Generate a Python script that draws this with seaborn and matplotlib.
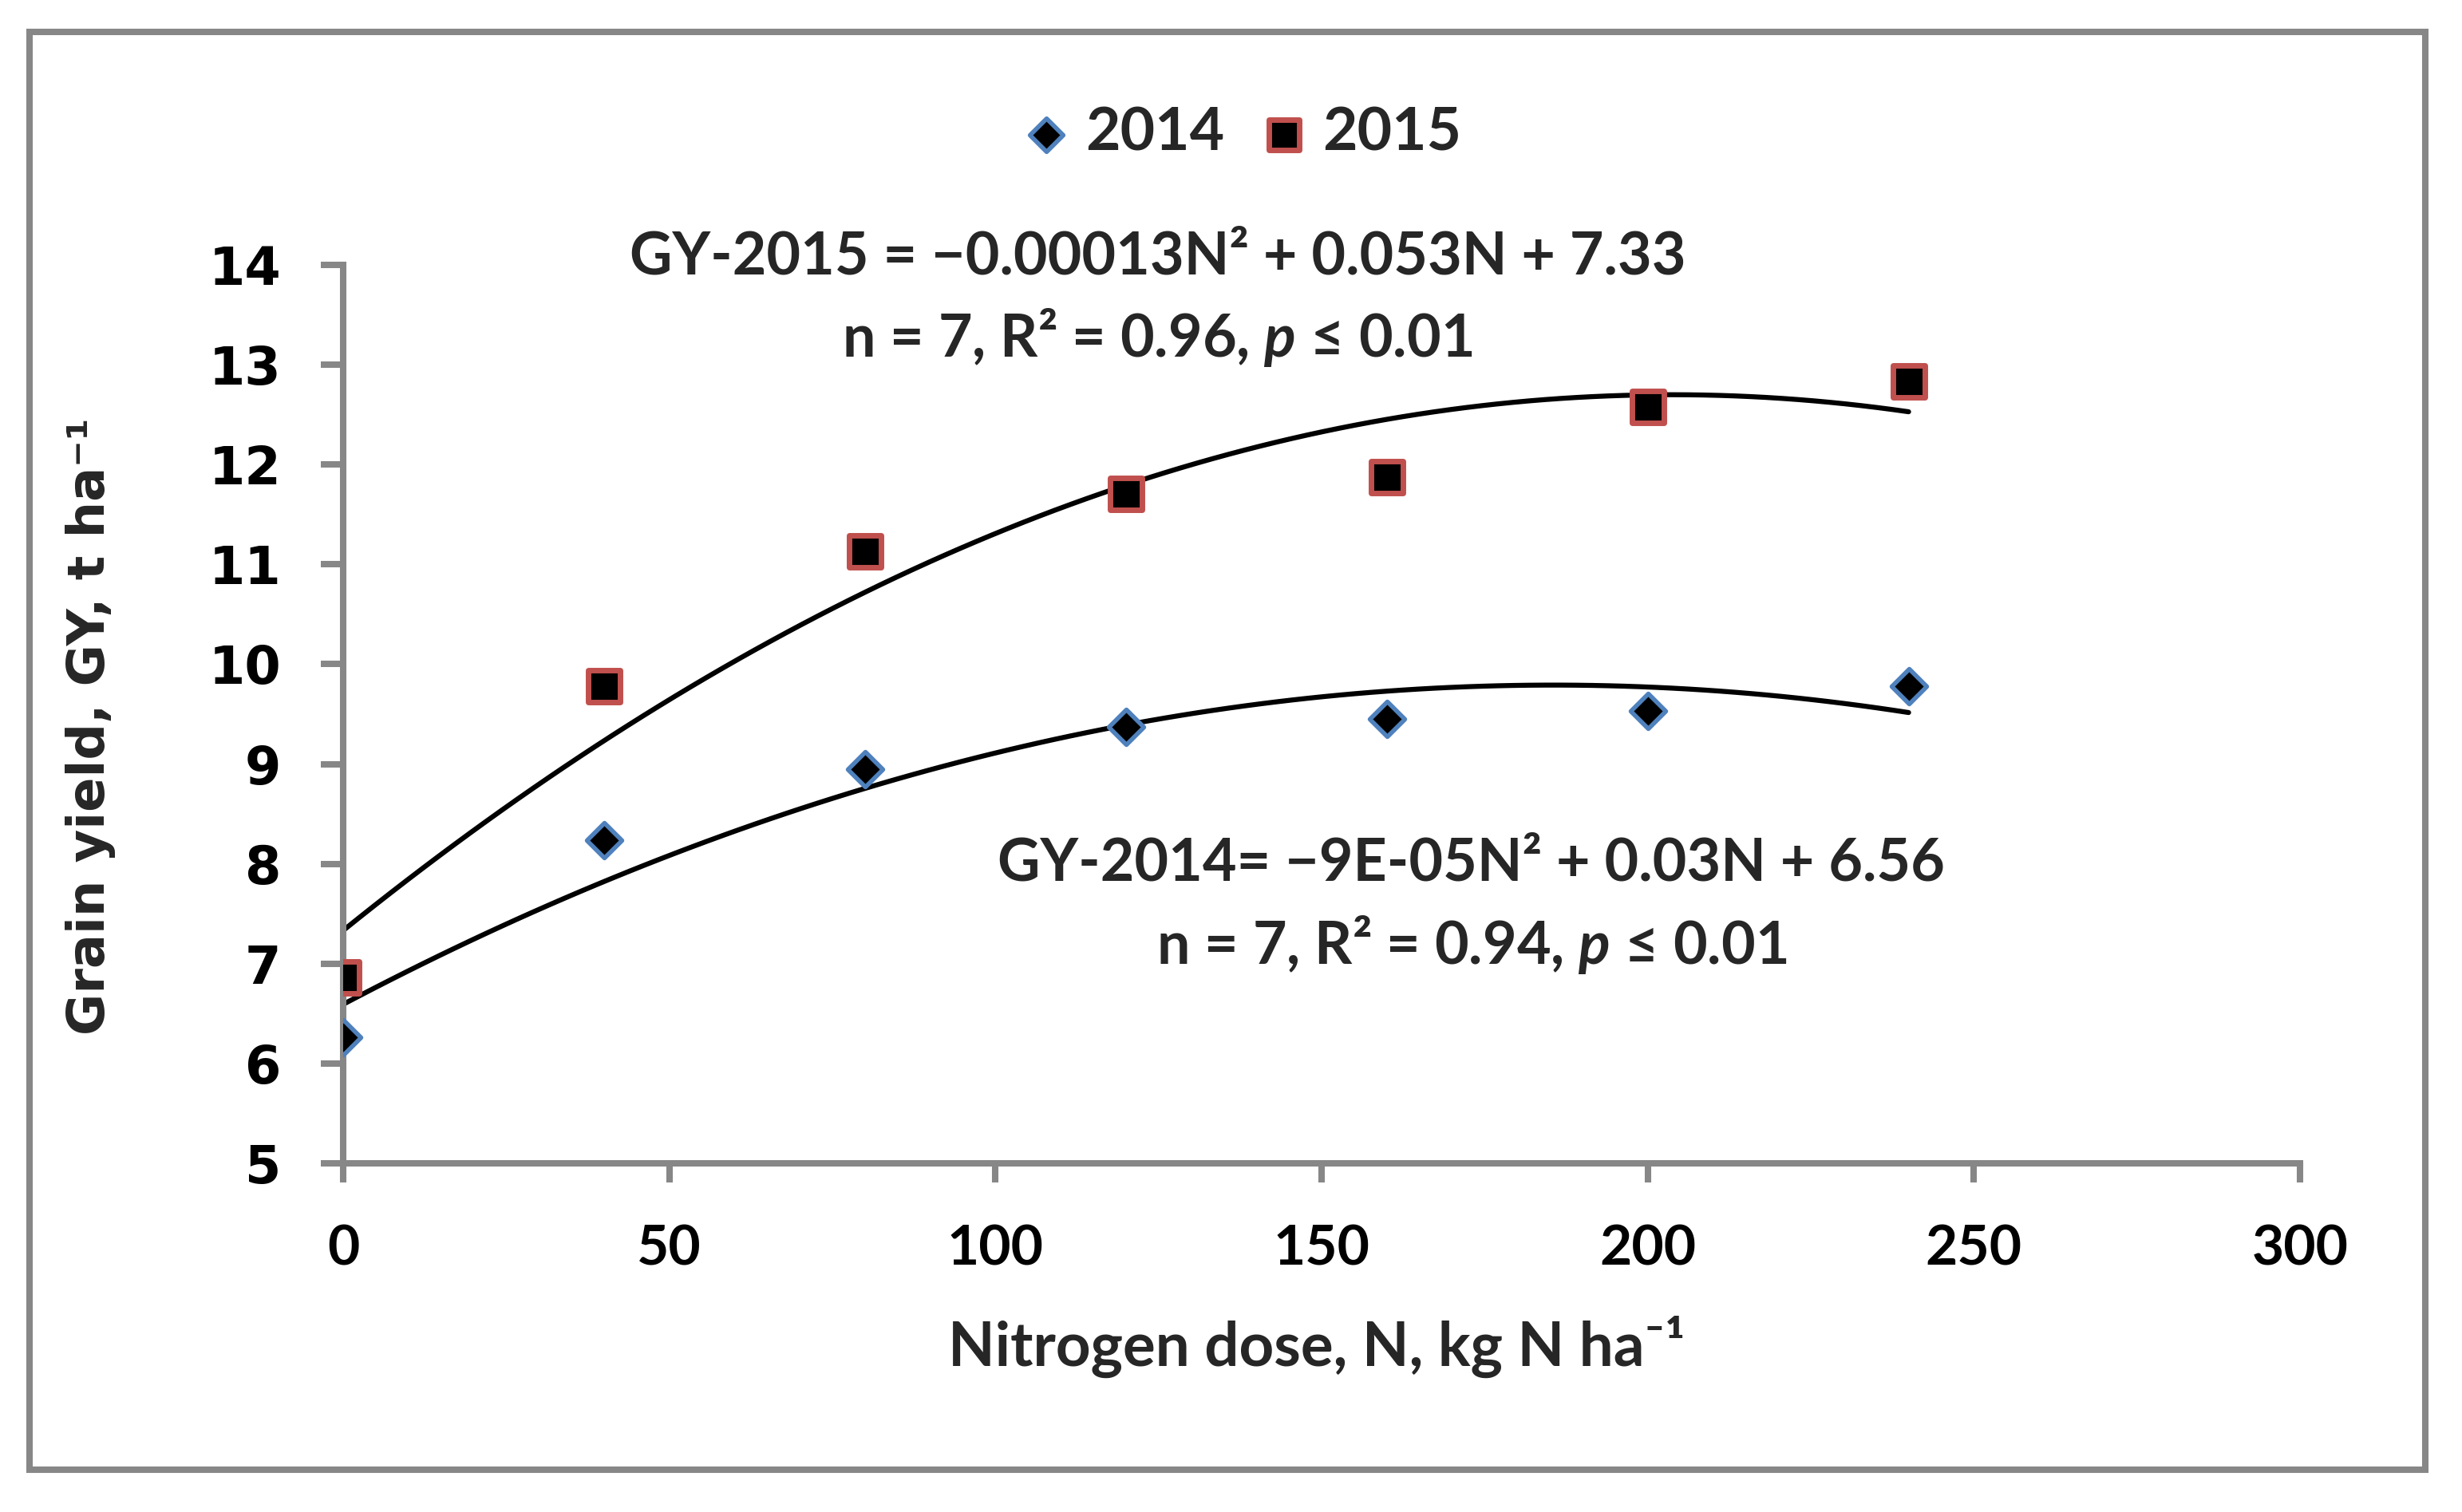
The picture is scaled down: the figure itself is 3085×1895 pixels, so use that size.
import numpy as np
import pandas as pd
import matplotlib
matplotlib.use("Agg")
import matplotlib.pyplot as plt
from matplotlib.patches import Rectangle
import seaborn as sns

# --- data ---
n_dose = [0, 40, 80, 120, 160, 200, 240]
gy_2014 = [6.26, 8.24, 8.95, 9.37, 9.45, 9.53, 9.78]
gy_2015 = [6.86, 9.78, 11.13, 11.71, 11.87, 12.58, 12.83]
x_ticks = [0, 50, 100, 150, 200, 250, 300]
y_ticks = [5, 6, 7, 8, 9, 10, 11, 12, 13, 14]

eq_2015 = "GY-2015 = \u22120.00013N\u00b2 + 0.053N + 7.33"
stat_2015 = "n = 7, R\u00b2 = 0.96, $\\mathit{p}$ \u2264 0.01"
eq_2014 = "GY-2014= \u22129E-05N\u00b2 + 0.03N + 6.56"
stat_2014 = "n = 7, R\u00b2 = 0.94, $\\mathit{p}$ \u2264 0.01"

df = pd.DataFrame({"N": n_dose, "2014": gy_2014, "2015": gy_2015})

sns.set_style("white")
plt.rcParams["font.family"] = ["Lato", "DejaVu Sans"]
plt.rcParams["mathtext.fontset"] = "custom"
plt.rcParams["mathtext.rm"] = "Lato:bold"
plt.rcParams["mathtext.it"] = "Lato:italic:bold"

W, H = 3085, 1895
GREY = "#878787"


def fx(x):
    return x / W


def fy(y):
    return 1 - y / H


# axes box in pixels
AX_L, AX_R, AX_T, AX_B = 430, 2882, 332, 1458

fig = plt.figure(figsize=(W / 100, H / 100), dpi=100)
fig.patch.set_facecolor("white")
fig.patches.append(Rectangle((fx(37), fy(1842)), fx(3039) - fx(37), fy(40) - fy(1842),
                             transform=fig.transFigure, fill=False,
                             edgecolor=GREY, linewidth=5.8))

ax = fig.add_axes([fx(AX_L), fy(AX_B), fx(AX_R) - fx(AX_L), fy(AX_T) - fy(AX_B)])

# trend lines (2nd order polynomial fits)
for col in ["2014", "2015"]:
    sns.regplot(data=df, x="N", y=col, order=2, ci=None, scatter=False, ax=ax,
                line_kws={"color": "black", "lw": 4.5, "zorder": 2})

sns.scatterplot(data=df, x="N", y="2014", ax=ax, marker="D", s=500,
                color="black", edgecolor="#4F81BD", linewidth=4, label="2014", zorder=3)
sns.scatterplot(data=df, x="N", y="2015", ax=ax, marker="s", s=840,
                color="black", edgecolor="#C0504D", linewidth=5, label="2015", zorder=3)

ax.set_xlim(0, 300)
ax.set_ylim(5, 14)
ax.set_xticks(x_ticks)
ax.set_yticks(y_ticks)
ax.set_xticklabels([str(v) for v in x_ticks], fontsize=50, fontweight="bold",
                   family=["Lato", "DejaVu Sans"])
ax.set_yticklabels([str(v) for v in y_ticks], fontsize=47, fontweight="bold",
                   family=["DejaVu Sans"])

sns.despine(ax=ax)
for side in ["left", "bottom"]:
    ax.spines[side].set_color(GREY)
    ax.spines[side].set_linewidth(5.8)
ax.tick_params(axis="both", which="major", direction="out", color=GREY, width=5.8,
               left=True, bottom=True, labelcolor="black")
ax.tick_params(axis="x", length=17, pad=38)
ax.tick_params(axis="y", length=20, pad=36)

ax.set_xlabel("Nitrogen dose, N, kg N ha\u207b\u00b9", fontsize=55, fontweight="bold",
              family=["Lato", "DejaVu Sans"])
ax.xaxis.set_label_coords((fx(1650) - fx(AX_L)) / (fx(AX_R) - fx(AX_L)),
                          (fy(1688) - fy(AX_B)) / (fy(AX_T) - fy(AX_B)))
ax.xaxis.label.set_va("center")
ax.set_ylabel("Grain yield, GY, t ha\u207b\u00b9", fontsize=46, fontweight="bold",
              family=["DejaVu Sans"])
ax.yaxis.set_label_coords((fx(114) - fx(AX_L)) / (fx(AX_R) - fx(AX_L)),
                          (fy(910) - fy(AX_B)) / (fy(AX_T) - fy(AX_B)))
ax.yaxis.label.set_va("center")

# equations
fig.text(fx(1451), fy(322), eq_2015, fontsize=53, fontweight="bold", ha="center", va="center")
fig.text(fx(1450), fy(423), stat_2015, fontsize=53, fontweight="bold", ha="center", va="center")
fig.text(fx(1843), fy(1082), eq_2014, fontsize=53, fontweight="bold", ha="center", va="center")
fig.text(fx(1844), fy(1184), stat_2014, fontsize=53, fontweight="bold", ha="center", va="center")

handles, labels = ax.get_legend_handles_labels()
ax.legend_.remove()
fig.legend(handles, labels, loc="center", bbox_to_anchor=(fx(1560), fy(167)), ncol=2,
           frameon=False, prop={"family": "Lato", "weight": "bold", "size": 54},
           handlelength=0.6, handletextpad=0.35, columnspacing=0.7, markerscale=0.95)

fig.savefig("out.png", dpi=100, facecolor="white")
plt.close(fig)
